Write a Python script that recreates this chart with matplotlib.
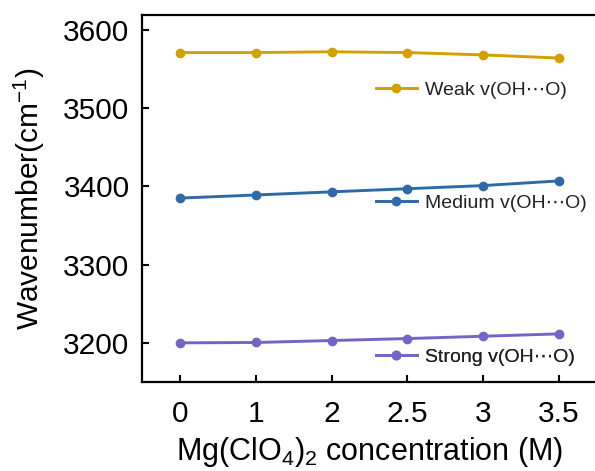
import matplotlib
matplotlib.use("Agg")
import matplotlib.pyplot as plt
from matplotlib.lines import Line2D

plt.rcParams['font.family'] = ['Liberation Sans', 'DejaVu Sans']
plt.rcParams['mathtext.fontset'] = 'custom'
plt.rcParams['mathtext.rm'] = 'Liberation Sans'
plt.rcParams['mathtext.it'] = 'Liberation Sans'
plt.rcParams['mathtext.default'] = 'regular'

categories = ["0", "1", "2", "2.5", "3", "3.5"]
weak = [3571, 3571, 3572, 3571, 3568, 3564]
medium = [3385, 3389, 3393, 3397, 3401, 3407]
strong = [3200, 3200.5, 3203, 3205.5, 3208.5, 3211.5]
labels = ["Weak v(OH\u22efO)", "Medium v(OH\u22efO)", "Strong v(OH\u22efO)"]
colors = ["#D4A000", "#2F6AA6", "#7165C5"]
yticks = [3200, 3300, 3400, 3500, 3600]

fig = plt.figure(figsize=(5.95, 4.71), dpi=100)
ax = fig.add_axes([142/595, 1-382/471, (597-142)/595, (382-15)/471])

x = list(range(len(categories)))
series = [weak, medium, strong]
for vals, c in zip(series, colors):
    ax.plot(x, vals, color=c, lw=2.1, marker='o', ms=6,
            markerfacecolor=c, markeredgecolor=c)

ax.set_xlim(-0.5, 5.5)
ax.set_ylim(3150, 3619)
ax.set_xticks(x)
ax.set_xticklabels(categories)
ax.set_yticks(yticks)
ax.tick_params(direction='in', length=5, width=1.5, labelsize=21.5, colors='black')
ax.tick_params(axis='x', pad=13)
ax.tick_params(axis='y', pad=9)
for s in ['left', 'bottom', 'top']:
    ax.spines[s].set_linewidth(1.6)
ax.spines['right'].set_visible(False)

ax.set_xlabel("Mg(ClO$_4$)$_2$ concentration (M)", fontsize=22, labelpad=5)
ax.set_ylabel("Wavenumber(cm$^{-1}$)", fontsize=21.5, labelpad=12)

ypos = [90, 203, 357]
for lab, c, yp in zip(labels, colors, ypos):
    h = Line2D([], [], color=c, lw=2.1, marker='o', ms=6)
    leg = ax.legend([h], [lab], loc='center left',
                    bbox_to_anchor=(376/595, 1-yp/471),
                    bbox_transform=fig.transFigure,
                    frameon=False, fontsize=14, handlelength=2.1,
                    handletextpad=0.4, borderpad=0, borderaxespad=0,
                    labelcolor='#222222')
    ax.add_artist(leg)

fig.savefig("out.png", dpi=100)
